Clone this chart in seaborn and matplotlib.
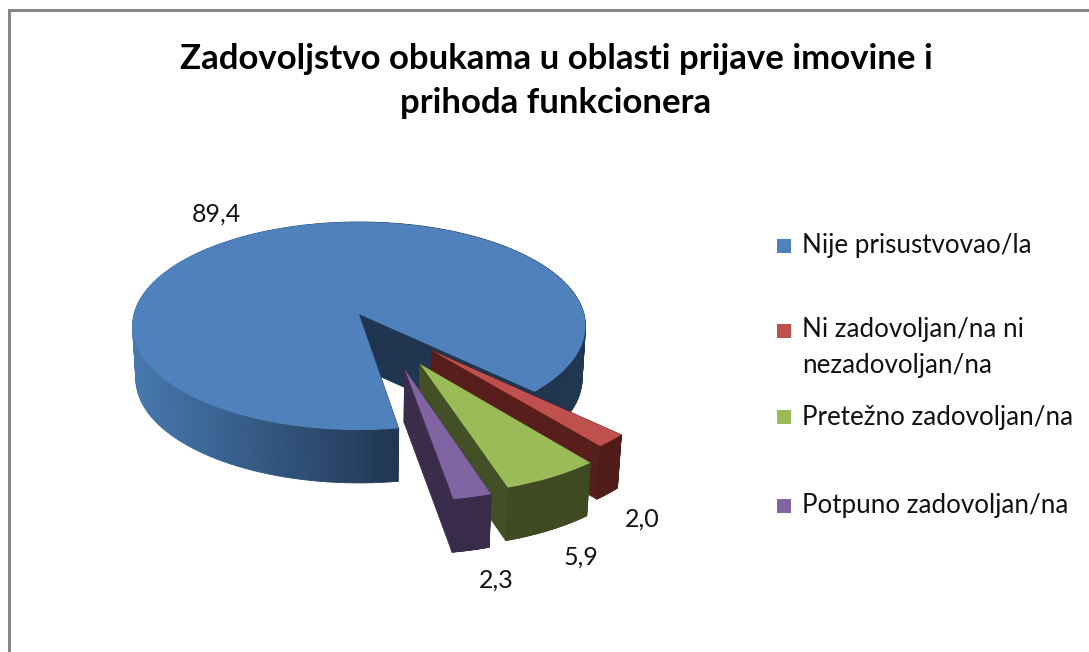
import numpy as np
import seaborn as sns
import matplotlib.pyplot as plt
from matplotlib.collections import PolyCollection
from matplotlib.transforms import Transform

# values
categories = ["Nije prisustvovao/la", "Ni zadovoljan/na ni\nnezadovoljan/na",
              "Pretežno zadovoljan/na", "Potpuno zadovoljan/na"]
values = [89.4, 2.0, 5.9, 2.3]
title = "Zadovoljstvo obukama u oblasti prijave imovine i\nprihoda funkcionera"

top_colors = ["#4f81bd", "#c0504d", "#9bbb59", "#8064a2"]
side_left = ["#4677ad", "#5a1f1c", "#434f24", "#3b2c4c"]
side_right = ["#1f3550", "#501c1a", "#3f4a22", "#392b4a"]
wall_colors = ["#1f3550", "#571e1b", "#434f24", "#3b2c4c"]

CX, CY, RX, RY, PERSP = 359, 314, 225, 102.6, 0.115
DEPTH, SHRINK = 53, 0.985


class Perspective(Transform):
    input_dims = 2
    output_dims = 2

    def transform_non_affine(self, xy):
        xy = np.asarray(xy, dtype=float)
        s = 1 / (1 + PERSP * xy[:, 1])
        return np.column_stack([CX + RX * xy[:, 0] * s, CY - RY * xy[:, 1] * s])


def drop(pts):
    # same points on the bottom face of the disc
    return np.column_stack([CX + (pts[:, 0] - CX) * SHRINK, pts[:, 1] + DEPTH])


sns.set_theme(style="white")
plt.rcParams["font.family"] = ["Lato", "DejaVu Sans"]

fig = plt.figure(figsize=(10.89, 6.52), dpi=100)
ax = fig.add_axes([0, 0, 1, 1])

wedges, _ = ax.pie(values, startangle=-81, counterclock=False, colors=top_colors,
                   explode=[0, 0.46, 0.5, 0.51], wedgeprops={"linewidth": 0})

ax.set_aspect("auto")
ax.set_xlim(0, 1089)
ax.set_ylim(652, 0)
ax.axis("off")

# the slices in the picture did not move quite along their bisectors
nudges = [(0, 0), (0, 0), (0.022, -0.02), (0.075, -0.01)]

persp = Perspective()
for i, w in enumerate(wedges):
    w.set_transform(persp + ax.transData)
    w.set_zorder(3 * i + 3)

    cx, cy = w.center
    cx, cy = cx + nudges[i][0], cy + nudges[i][1]
    w.set_center((cx, cy))

    th = np.radians(np.linspace(w.theta1, w.theta2, 160))
    rim = persp.transform(np.column_stack([cx + w.r * np.cos(th), cy + w.r * np.sin(th)]))
    rim_low = drop(rim)
    apex = persp.transform(np.array([[cx, cy]]))
    apex_low = drop(apex)

    # flat cut faces of the slice
    walls = [np.vstack([apex, rim[[k]], rim_low[[k]], apex_low]) for k in (0, -1)]
    ax.add_collection(PolyCollection(walls, facecolors=wall_colors[i], edgecolors=wall_colors[i],
                                     linewidths=0.5, zorder=3 * i + 1))

    # outer side, shaded left to right
    quads = [np.vstack([rim[k:k + 2], rim_low[k:k + 2][::-1]]) for k in range(len(rim) - 1)]
    shades = sns.blend_palette([side_left[i], side_right[i]], 256)
    pos = np.clip((rim[:-1, 0] - 135) / (400 - 135), 0, 1)
    cols = [shades[int(p * 255)] for p in pos]
    ax.add_collection(PolyCollection(quads, facecolors=cols, edgecolors=cols,
                                     linewidths=0.6, zorder=3 * i + 2))

# data labels
label_pos = [(216, 214), (642, 519), (581, 557), (496, 580)]
for v, (x, y) in zip(values, label_pos):
    ax.text(x, y, f"{v:.1f}".replace(".", ","), ha="center", va="center",
            fontsize=18, color="#111111", zorder=30)

# legend
marker_y = [246, 331, 417, 506]
text_y = [246, 348, 417, 506]
for name, col, my, ty in zip(categories, top_colors, marker_y, text_y):
    ax.scatter([784], [my], marker="s", s=105, color=col, linewidths=0, zorder=30)
    ax.text(802, ty, name, ha="left", va="center", fontsize=18.7, color="#111111",
            linespacing=1.55, zorder=30)

ax.text(556, 81, title, ha="center", va="center", fontsize=25, fontweight="bold",
        color="black", linespacing=1.47, zorder=30)

# chart frame, runs off the right and bottom of the crop
ax.plot([9, 9, 1089], [652, 10, 10], color="#868686", lw=2.2, solid_joinstyle="miter", zorder=1)

fig.savefig("out.png", dpi=100, facecolor="white")
